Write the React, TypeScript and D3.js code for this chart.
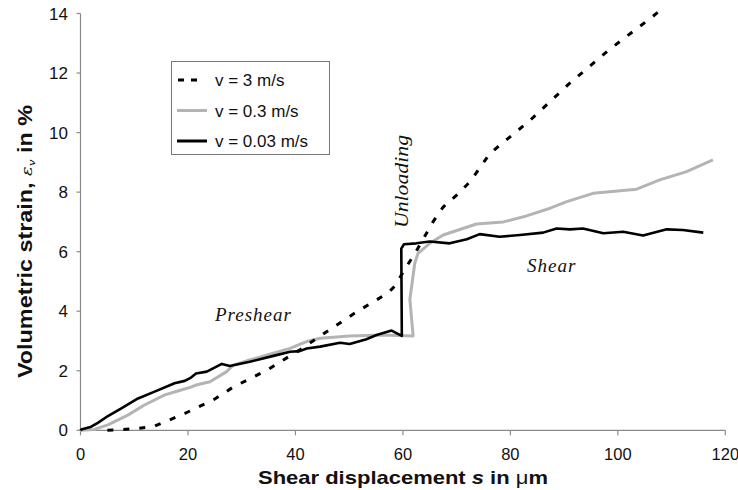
import React from "react";
import * as d3 from "d3";

const xTicks = [0, 20, 40, 60, 80, 100, 120];
const yTicks = [0, 2, 4, 6, 8, 10, 12, 14];

const seriesNames = ["v = 3 m/s", "v = 0.3 m/s", "v = 0.03 m/s"];

const fastX = [5, 10, 13.5, 16.6, 19.7, 25, 28.4, 34.7, 40.8, 45.8, 51.4, 57.3, 58.5, 60.5, 62.5, 65.6, 67.5, 70, 72.5, 76.2, 83.6, 91, 98.5, 106.5, 107.5];
const fastY = [0, 0.05, 0.12, 0.35, 0.59, 1.05, 1.45, 2.02, 2.7, 3.31, 3.98, 4.62, 4.85, 5.45, 6.02, 7.0, 7.5, 7.9, 8.35, 9.3, 10.4, 11.65, 12.8, 13.9, 14.05];

const midX = [0, 2.6, 5.1, 8.8, 11.9, 15.7, 18.1, 20.4, 21.5, 24.1, 27.2, 28.4, 31.5, 35.9, 39, 40.8, 42.1, 44.6, 50.1, 56.3, 61.9, 61.3, 62.2, 62.8, 65, 67.5, 73.7, 78.7, 83, 87.4, 90.5, 95.4, 103.5, 107.8, 112.8, 117.7];
const midY = [0, 0.03, 0.18, 0.51, 0.85, 1.19, 1.32, 1.44, 1.52, 1.63, 1.97, 2.19, 2.36, 2.59, 2.75, 2.89, 2.98, 3.09, 3.17, 3.2, 3.17, 4.4, 5.6, 5.94, 6.28, 6.56, 6.93, 7.0, 7.2, 7.46, 7.68, 7.96, 8.1, 8.41, 8.69, 9.08];

const slowX = [0, 0.15, 2, 3.3, 5.1, 7.6, 10.7, 13.8, 17.5, 19.4, 20.4, 21.5, 23.5, 26.3, 27.8, 31.5, 35.9, 39, 40.8, 42.1, 44.6, 48.3, 50.1, 53.2, 55.1, 57.9, 59.8, 59.7, 60.2, 62.5, 65, 68.7, 71.9, 74.3, 78, 81.8, 86.1, 88.6, 91.1, 93.5, 97.3, 101, 104.7, 109.1, 112.1, 115.9];
const slowY = [0, 0.03, 0.12, 0.26, 0.48, 0.74, 1.07, 1.3, 1.58, 1.66, 1.75, 1.91, 1.97, 2.23, 2.16, 2.3, 2.5, 2.64, 2.66, 2.75, 2.81, 2.94, 2.9, 3.06, 3.2, 3.35, 3.17, 6.1, 6.25, 6.28, 6.34, 6.28, 6.42, 6.59, 6.5, 6.56, 6.64, 6.78, 6.75, 6.78, 6.62, 6.67, 6.54, 6.75, 6.73, 6.64];

const W = 738;
const H = 490;

export default function App() {
  const x = d3.scaleLinear().domain([0, 120]).range([80.5, 725.3]);
  const y = d3.scaleLinear().domain([0, 14]).range([430.3, 13.5]);
  const line = d3
    .line<[number, number]>()
    .x((d) => x(d[0]))
    .y((d) => y(d[1]))
    .curve(d3.curveLinear);
  const zip = (a: number[], b: number[]) => a.map((v, i) => [v, b[i]] as [number, number]);

  const fast = zip(fastX, fastY);
  const mid = zip(midX, midY);
  const slow = zip(slowX, slowY);

  const axisColor = "#8a8a8a";
  const tickFont = "Arial, 'Liberation Sans', sans-serif";
  const serif = "'Liberation Serif', 'Times New Roman', serif";

  return (
    <svg
      width={W}
      height={H}
      style={{ position: "absolute", left: 0, top: 0, background: "#fff" }}
    >
      <rect x={0} y={0} width={W} height={H} fill="#fff" />
      {/* axes */}
      <line x1={x(0)} x2={x(0)} y1={y(14)} y2={y(0)} stroke={axisColor} strokeWidth={1.2} />
      <line x1={x(0)} x2={x(120)} y1={y(0)} y2={y(0)} stroke={axisColor} strokeWidth={1.2} />
      {yTicks.map((t) => (
        <g key={"y" + t}>
          <line x1={x(0) - 4} x2={x(0)} y1={y(t)} y2={y(t)} stroke={axisColor} strokeWidth={1.2} />
          <text
            x={68}
            y={y(t)}
            dy="0.36em"
            textAnchor="end"
            fontFamily={tickFont}
            fontSize={17}
            fill="#111"
          >
            {t}
          </text>
        </g>
      ))}
      {xTicks.map((t) => (
        <g key={"x" + t}>
          <line x1={x(t)} x2={x(t)} y1={y(0)} y2={y(0) + 5} stroke={axisColor} strokeWidth={1.2} />
          <text
            x={x(t)}
            y={460}
            textAnchor="middle"
            fontFamily={tickFont}
            fontSize={16.5}
            fill="#111"
          >
            {t}
          </text>
        </g>
      ))}

      {/* axis titles */}
      <text
        x={258}
        y={483.5}
        fontFamily={tickFont}
        fontSize={18.5}
        fontWeight="bold"
        fill="#111"
        textLength={290}
        lengthAdjust="spacingAndGlyphs"
      >
        Shear displacement <tspan fontStyle="italic">s</tspan>  in{" "}
        <tspan fontWeight="normal">μ</tspan>m
      </text>
      <text
        transform="translate(32,378) rotate(-90)"
        fontFamily={tickFont}
        fontSize={19.5}
        fontWeight="bold"
        fill="#111"
        textLength={273}
        lengthAdjust="spacingAndGlyphs"
      >
        Volumetric strain,{" "}
        <tspan fontWeight="normal" fontStyle="italic" fontFamily="'DejaVu Serif', serif" fontSize={15}>
          ε
        </tspan>
        <tspan fontWeight="normal" fontStyle="italic" fontFamily="'DejaVu Serif', serif" fontSize={10} dy={3}>
          v
        </tspan>
        <tspan dy={-3}> in %</tspan>
      </text>

      {/* series */}
      <path d={line(mid) || ""} fill="none" stroke="#b4b4b4" strokeWidth={3} strokeLinejoin="round" />
      <path d={line(slow) || ""} fill="none" stroke="#000" strokeWidth={2.6} strokeLinejoin="round" />
      <path
        d={line(fast) || ""}
        fill="none"
        stroke="#000"
        strokeWidth={3}
        strokeDasharray="6 10"
      />

      {/* annotations */}
      <text x={215} y={321} fontFamily={serif} fontStyle="italic" fontSize={19} letterSpacing={1} fill="#111">
        Preshear
      </text>
      <text x={527} y={272} fontFamily={serif} fontStyle="italic" fontSize={19} letterSpacing={1} fill="#111">
        Shear
      </text>
      <text
        transform="translate(408,228) rotate(-90)"
        fontFamily={serif}
        fontStyle="italic"
        fontSize={19.5}
        fill="#111"
        textLength={93}
        lengthAdjust="spacingAndGlyphs"
      >
        Unloading
      </text>

      {/* legend */}
      <rect x={171.5} y={61.5} width={158} height={93} fill="#fff" stroke="#777" strokeWidth={1} />
      {seriesNames.map((name, i) => {
        const cy = 80 + i * 30.5;
        return (
          <g key={name}>
            {i === 0 && (
              <line x1={178} x2={198} y1={cy} y2={cy} stroke="#000" strokeWidth={3} strokeDasharray="6 7" />
            )}
            {i === 1 && <line x1={177} x2={207} y1={cy} y2={cy} stroke="#b4b4b4" strokeWidth={3} />}
            {i === 2 && <line x1={177} x2={207} y1={cy} y2={cy} stroke="#000" strokeWidth={3} />}
            <text x={215} y={cy} dy="0.36em" fontFamily={tickFont} fontSize={17} fill="#111">
              {name}
            </text>
          </g>
        );
      })}
    </svg>
  );
}
